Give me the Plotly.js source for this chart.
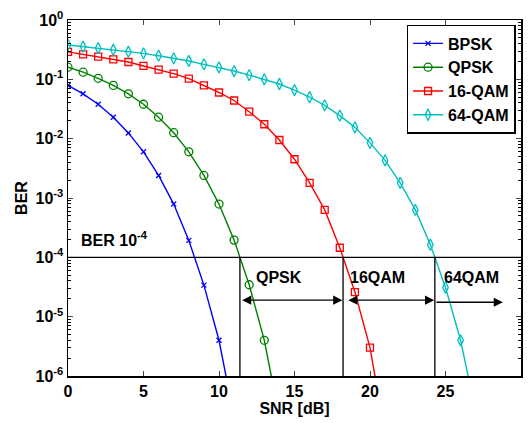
<!DOCTYPE html>
<html>
<head>
<meta charset="utf-8">
<script src="https://cdn.plot.ly/plotly-3.0.1.min.js"></script>
<style>html,body{margin:0;padding:0;background:#fff}#chart{width:528px;height:423px}</style>
</head>
<body>
<div id="chart"></div>
<script>
// ---- data ----
const snrBPSK = [0,1,2,3,4,5,6,7,8,9,10,11];
const berBPSK = [0.079,0.057,0.038,0.023,0.0125,0.006,0.0024,7.9e-4,1.93e-4,3.4e-5,4.0e-6,2.0e-7];
const snrQPSK = [0,1,2,3,4,5,6,7,8,9,10,11,12,13,14];
const berQPSK = [0.16,0.132,0.104,0.079,0.057,0.038,0.023,0.0126,0.006,0.0024,7.9e-4,1.95e-4,3.45e-5,4.0e-6,2.0e-7];
const snr16 = [0,1,2,3,4,5,6,7,8,9,10,11,12,13,14,15,16,17,18,19,20,21];
const ber16 = [0.29,0.264,0.241,0.217,0.196,0.168,0.146,0.125,0.103,0.079,0.06,0.044,0.0285,0.0175,0.0095,0.0045,0.0018,6.3e-4,1.45e-4,2.6e-5,3.0e-6,1.1e-7];
const snr64 = [0,1,2,3,4,5,6,7,8,9,10,11,12,13,14,15,16,17,18,19,20,21,22,23,24,25,26,27];
const ber64 = [0.379,0.355,0.337,0.316,0.292,0.274,0.25,0.226,0.204,0.179,0.159,0.138,0.118,0.1,0.0834,0.066,0.05,0.0365,0.0245,0.0155,0.0085,0.0043,0.0018,6.3e-4,1.63e-4,3.1e-5,4.0e-6,2.5e-7];
const seriesNames = ['BPSK','QPSK','16-QAM','64-QAM'];
const berTarget = 1e-4;
const regionLabels = ['QPSK','16QAM','64QAM'];
const yTickVals = [1e-6,1e-5,1e-4,1e-3,1e-2,1e-1,1];
const yTickText = ['10<sup>-6</sup>','10<sup>-5</sup>','10<sup>-4</sup>','10<sup>-3</sup>','10<sup>-2</sup>','10<sup>-1</sup>','10<sup>0</sup>'];

// crossing SNR at target BER (log-linear interpolation of the data)
function crossing(xs, ys, t) {
  const lt = Math.log10(t);
  for (let i = 0; i < ys.length - 1; i++) {
    const a = Math.log10(ys[i]), b = Math.log10(ys[i+1]);
    if (a >= lt && b <= lt) return xs[i] + (a - lt) / (a - b) * (xs[i+1] - xs[i]);
  }
  return null;
}
const xQ = crossing(snrQPSK, berQPSK, berTarget);
const x16 = crossing(snr16, ber16, berTarget);
const x64 = crossing(snr64, ber64, berTarget);

const FONT = 'Liberation Sans, Arial, Helvetica, sans-serif';
const BF = (s) => ({family: FONT, size: s, weight: 'bold', color: '#000'});
const LW = 1.4;
const traces = [
  {x: snrBPSK, y: berBPSK, name: seriesNames[0], mode: 'lines+markers',
   line: {color: '#0000ff', width: LW}, marker: {symbol: 'x-thin-open', size: 5, color: '#0000ff', line: {width: 1.3, color: '#0000ff'}}},
  {x: snrQPSK, y: berQPSK, name: seriesNames[1], mode: 'lines+markers',
   line: {color: '#008000', width: LW}, marker: {symbol: 'circle-open', size: 8, color: '#008000', line: {width: 1.3}}},
  {x: snr16, y: ber16, name: seriesNames[2], mode: 'lines+markers',
   line: {color: '#ff0000', width: LW}, marker: {symbol: 'square-open', size: 7, color: '#ff0000', line: {width: 1.3}}},
  {x: snr64, y: ber64, name: seriesNames[3], mode: 'lines+markers',
   line: {color: '#00bfbf', width: LW}, marker: {symbol: 'diamond-tall-open', size: 8, color: '#00bfbf', line: {width: 1.3}}}
];

const arrowY = Math.log10(1.9e-5);
const arrowY64 = Math.log10(1.75e-5);
const textY = Math.log10(4.6e-5);
const annotations = [
  {x: 0.7, y: Math.log10(2.05e-4), xref: 'x', yref: 'y', text: 'BER 10<sup>-4</sup>', showarrow: false,
   xanchor: 'left', yanchor: 'middle', font: BF(16)},
  {x: 14.0, y: textY, xref: 'x', yref: 'y', text: regionLabels[0], showarrow: false,
   xanchor: 'center', yanchor: 'middle', font: BF(16)},
  {x: 20.5, y: textY, xref: 'x', yref: 'y', text: regionLabels[1], showarrow: false,
   xanchor: 'center', yanchor: 'middle', font: BF(16)},
  {x: 26.75, y: textY, xref: 'x', yref: 'y', text: regionLabels[2], showarrow: false,
   xanchor: 'center', yanchor: 'middle', font: BF(16)},
  // double arrows
  {x: x16 - 0.05, y: arrowY, ax: xQ + 0.05, ay: arrowY, xref: 'x', yref: 'y', axref: 'x', ayref: 'y', text: '',
   showarrow: true, arrowhead: 2, startarrowhead: 2, arrowside: 'end+start', arrowsize: 1.4, startarrowsize: 1.4, arrowwidth: 1.3, arrowcolor: '#000'},
  {x: x64 - 0.05, y: arrowY, ax: x16 + 0.25, ay: arrowY, xref: 'x', yref: 'y', axref: 'x', ayref: 'y', text: '',
   showarrow: true, arrowhead: 2, startarrowhead: 2, arrowside: 'end+start', arrowsize: 1.4, startarrowsize: 1.4, arrowwidth: 1.3, arrowcolor: '#000'},
  {x: 28.8, y: arrowY64, ax: x64, ay: arrowY64, xref: 'x', yref: 'y', axref: 'x', ayref: 'y', text: '',
   showarrow: true, arrowhead: 2, arrowsize: 1.4, arrowwidth: 1.3, arrowcolor: '#000'}
];

const shapes = [
  {type: 'line', xref: 'x', yref: 'y', x0: 0, x1: 30, y0: berTarget, y1: berTarget, line: {color: '#000', width: 1.3}},
  {type: 'line', xref: 'x', yref: 'y', x0: xQ, x1: xQ, y0: 1e-6, y1: berTarget, line: {color: '#000', width: 1.3}},
  {type: 'line', xref: 'x', yref: 'y', x0: x16, x1: x16, y0: 1e-6, y1: berTarget, line: {color: '#000', width: 1.3}},
  {type: 'line', xref: 'x', yref: 'y', x0: x64, x1: x64, y0: 1e-6, y1: berTarget, line: {color: '#000', width: 1.3}}
];

const layout = {
  width: 528, height: 423,
  margin: {l: 68, r: 7, t: 20, b: 47},
  paper_bgcolor: '#fff', plot_bgcolor: '#fff',
  font: {family: FONT, size: 16, color: '#000'},
  showlegend: true,
  legend: {x: 0.988, xanchor: 'right', y: 0.986, yanchor: 'top', bgcolor: '#fff',
           bordercolor: '#000', borderwidth: 1.5, font: BF(16),
           tracegroupgap: 0, itemwidth: 30},
  xaxis: {range: [0, 30], tickmode: 'linear', tick0: 0, dtick: 5, ticks: 'inside', ticklen: 5,
          tickwidth: 1, showline: true, linecolor: '#000', linewidth: 1.5, mirror: 'ticks',
          showgrid: false, zeroline: false, tickfont: BF(16),
          title: {text: 'SNR [dB]', font: BF(16), standoff: 0}},
  yaxis: {type: 'log', range: [-6, 0], tickmode: 'array', tickvals: yTickVals, ticktext: yTickText,
          ticks: 'inside', ticklen: 5, tickwidth: 1, showline: true, linecolor: '#000', linewidth: 1.5,
          mirror: 'ticks', showgrid: false, zeroline: false,
          tickfont: BF(16),
          minor: {ticks: 'inside', ticklen: 3, tickwidth: 1, dtick: 'D1', showgrid: false, tickcolor: '#000'},
          title: {text: 'BER', font: BF(16), standoff: 4}},
  shapes: shapes,
  annotations: annotations
};

Plotly.newPlot('chart', traces, layout, {displayModeBar: false, staticPlot: true});
</script>
</body>
</html>
